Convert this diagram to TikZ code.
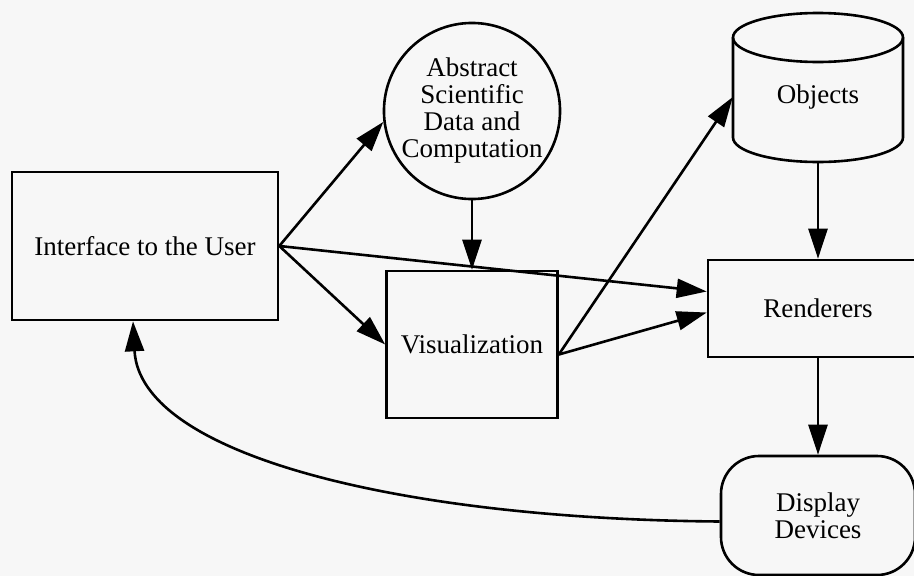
\documentclass[tikz,border=0pt]{standalone}
\usepackage{fontspec}
\setmainfont{Liberation Serif}
\usetikzlibrary{arrows.meta,calc}

\tikzset{
	flow/.style={line width=2.6pt,-{Triangle[length=30pt,width=19pt]}},
	boxnode/.style={draw,line width=2.6pt,rectangle,align=center},
	textnode/.style={align=center}
}

\begin{document}
\begin{tikzpicture}[x=1pt,y=-1pt,font=\fontsize{27}{27}\selectfont]
					\fill[black!3] (0,0) rectangle (914,576);
					\useasboundingbox (0,0) rectangle (914,576);
					
					% the boxes
					\node[boxnode,minimum width=266pt,minimum height=148pt] (user) at (145,246) {Interface to the User};
					\node[boxnode,circle,minimum size=172pt,inner sep=0pt] (abstract) at (472,111) {Abstract\\Scientific\\Data and\\Computation};
					\node[boxnode,minimum width=171pt,minimum height=147pt] (vis) at (472,344.5) {Visualization};
					\node[boxnode,minimum width=220pt,minimum height=97pt] (renderers) at (818,308.5) {Renderers};
					\node[boxnode,rounded corners=38pt,minimum width=194pt,minimum height=119pt] (display) at (818,515.5) {Display\\Devices};
					
					% the cylinder is drawn by hand round its text
					\node[textnode,minimum width=170pt,minimum height=130pt] (objects) at (818,97) {Objects};
					\draw[line width=2.6pt] (818,37.5) ellipse [x radius=85, y radius=24.5];
					\draw[line width=2.6pt] (733,37.5) -- (733,137.5)
						.. controls (733,151) and (771,162) .. (818,162)
						.. controls (865,162) and (903,151) .. (903,137.5) -- (903,37.5);
					
					% the arrows
					\draw[flow] (user.east) -- (abstract.187);
					\draw[flow] (user.east) -- (vis.west);
					\draw[flow] (user.east) -- ([yshift=17pt]renderers.west);
					\draw[flow] (abstract.south) -- (vis.north);
					\draw[flow] ([yshift=-10pt]vis.east) -- (objects.west);
					\draw[flow] ([yshift=-10pt]vis.east) -- ([yshift=-4pt]renderers.west);
					\draw[flow] (objects.south) -- (renderers.north);
					\draw[flow] (renderers.south) -- (display.north);
					\draw[flow] ([yshift=-6pt]display.west)
						.. controls (400,519) and (140,455) .. ([xshift=-12pt]user.south);
					
	\end{tikzpicture}
\end{document}
